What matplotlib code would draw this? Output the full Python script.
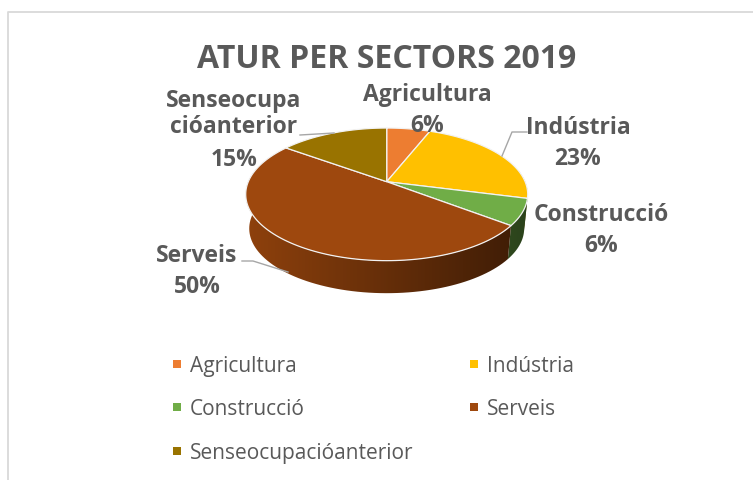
"""
ATUR PER SECTORS 2019: 3D style pie chart, drawn in pixel coordinates.
"""

import matplotlib.pyplot as plt
from matplotlib.patches import Polygon, Rectangle
import numpy as np

plt.rcParams["font.family"] = ["Open Sans", "DejaVu Sans"]

TITLE = "ATUR PER SECTORS 2019"
categories = ["Agricultura", "Indústria", "Construcció", "Serveis", "Senseocupacióanterior"]
values = [6, 23, 6.4, 49.6, 15]
colors = ["#ED7D31", "#FFC000", "#70AD47", "#9E480E", "#997300"]
label_names = ["Agricultura", "Indústria", "Construcció", "Serveis", "Senseocupa\ncióanterior"]

W, H = 753, 481
TEXT = "#595959"
LEADER = "#A6A6A6"

# perspective of the pie, fitted to the picture
CX, CY = 386.7, 182.7
B, A, K = 138.4, 63.9, 0.1907
DEPTH, BOTTOM_SCALE = 34.5, 0.975


def project(theta, scale=1.0, dy=0.0):
    """Pie angle (radians, clockwise from the top) to pixel position."""
    denom = 1 + K * np.cos(theta)
    x = CX + scale * B * np.sin(theta) / denom
    y = CY + dy - scale * A * np.cos(theta) / denom
    return x, y


def draw_side(ax, t0, t1, color):
    """Side wall of one slice, with the dark-to-the-right gradient."""
    # only the front half of the rim is visible
    lo, hi = max(t0, np.radians(80)), min(t1, np.radians(282))
    if hi <= lo:
        return
    t = np.linspace(lo, hi, 80)
    xt, yt = project(t)
    xb, yb = project(t, BOTTOM_SCALE, DEPTH)
    pts = np.column_stack([np.r_[xt, xb[::-1]], np.r_[yt, yb[::-1]]])
    clip = Polygon(pts, closed=True, transform=ax.transData, facecolor="none", edgecolor="none")
    ax.add_patch(clip)

    rgb = np.array(plt.matplotlib.colors.to_rgb(color))
    shade = np.linspace(0.90, 0.38, 256)
    grad = (shade[:, None] * rgb)[None, :, :]
    im = ax.imshow(grad, extent=(CX - 141, CX + 141, 300, 130), aspect="auto", zorder=2)
    im.set_clip_path(clip)


def draw_pie(ax):
    edges = np.radians(np.r_[0, np.cumsum(values)] / sum(values) * 360)
    for i, color in enumerate(colors):
        draw_side(ax, edges[i], edges[i + 1], color)
    for i, color in enumerate(colors):
        t = np.linspace(edges[i], edges[i + 1], 120)
        x, y = project(t)
        pts = np.column_stack([np.r_[CX, x], np.r_[CY, y]])
        ax.add_patch(Polygon(pts, closed=True, facecolor=color, edgecolor="#F2F2F2", linewidth=0.9, zorder=3))


def draw_labels(ax):
    # (x centre, y centre of the name block, y centre of the percent)
    spots = [(427, 95, 126), (578, 128, 159), (601, 215, 246), (197, 256, 287), (234, 114, 160)]
    for name, val, (x, y_name, y_pct) in zip(label_names, values, spots):
        ax.text(x, y_name, name, ha="center", va="center", fontsize=16.5, fontweight="bold",
                color=TEXT, linespacing=1.12, zorder=5)
        ax.text(x, y_pct, f"{val:.0f}%", ha="center", va="center", fontsize=16.5, fontweight="bold",
                color=TEXT, zorder=5)

    leaders = [
        [(527, 133), (512, 133), (502, 157)],
        [(242, 262), (253, 262), (288, 273)],
        [(300, 136), (334, 134)],
    ]
    for line in leaders:
        xs, ys = zip(*line)
        ax.plot(xs, ys, color=LEADER, linewidth=1, zorder=4)


def draw_legend(ax):
    spots = [(173, 365), (470, 365), (173, 408), (470, 408), (173, 452)]
    for name, color, (x, y) in zip(categories, colors, spots):
        ax.add_patch(Rectangle((x, y - 4), 8, 8, facecolor=color, edgecolor="none"))
        ax.text(x + 17, y + 1.5, name, ha="left", va="center", fontsize=15, color=TEXT)


def main():
    fig = plt.figure(figsize=(W / 100, H / 100), dpi=100)
    ax = fig.add_axes([0, 0, 1, 1])

    # chart frame: only left and top are inside the crop
    ax.plot([8, 8, W], [H, 12.5, 12.5], color="#D9D9D9", linewidth=1.3)

    draw_pie(ax)
    ax.text(386.5, 60, TITLE, ha="center", va="center", fontsize=23, fontweight="bold", color=TEXT)
    draw_labels(ax)
    draw_legend(ax)

    ax.set_xlim(0, W)
    ax.set_ylim(H, 0)
    ax.set_axis_off()
    fig.savefig("out.png", dpi=100, facecolor="white")


if __name__ == "__main__":
    main()
